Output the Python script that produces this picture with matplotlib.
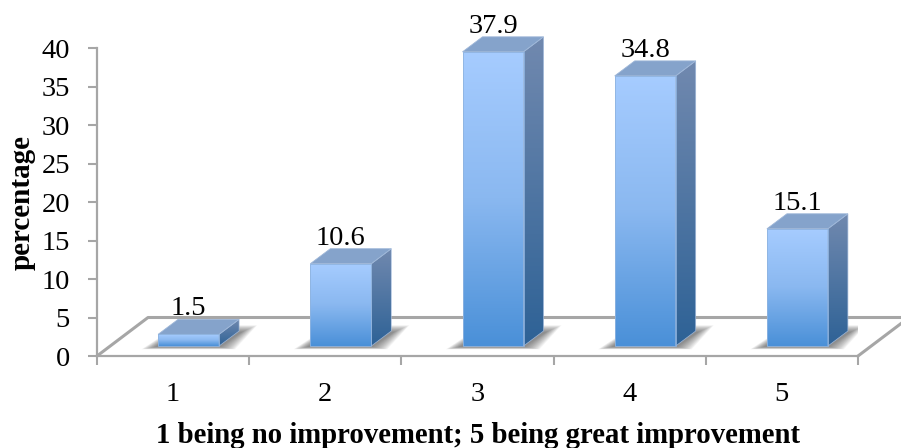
import numpy as np
import matplotlib
matplotlib.use('Agg')
import matplotlib.pyplot as plt
from matplotlib.colors import LinearSegmentedColormap
from matplotlib.patches import Polygon

# 数据
categories = [1, 2, 3, 4, 5]
percentages = [1.5, 10.6, 37.9, 34.8, 15.1]
y_ticks = [0, 5, 10, 15, 20, 25, 30, 35, 40]

plt.rcParams['font.family'] = ['Liberation Serif', 'DejaVu Serif']

fig = plt.figure(figsize=(9.01, 4.48), dpi=100)
ax = fig.add_axes([97 / 901, (448 - 356) / 448, 761 / 901, 308 / 448])
ax.set_xlim(0.5, 5.5)
ax.set_ylim(0, 40)

# 一个像素对应的数据长度
px = 1 / 152.2
py = 1 / 7.7

bar_w = 61 * px
bar_shift = 15.5 * px
depth_x = 20 * px
depth_y = 15 * py
base = 10 * py
front_scale = 1.008
axis_color = '#a6a6a6'

front_cmap = LinearSegmentedColormap.from_list('front', ['#a6ccff', '#8ab8f0', '#4a90d8'])
side_cmap = LinearSegmentedColormap.from_list('side', ['#7189af', '#2e6296'])
ramp = np.linspace(0, 1, 128).reshape(-1, 1)


def gradient_face(points, cmap, z):
    # 用裁剪后的渐变图像填充一个面
    pts = np.array(points)
    im = ax.imshow(ramp, cmap=cmap, aspect='auto', zorder=z, interpolation='bilinear',
                   extent=(pts[:, 0].min(), pts[:, 0].max(), pts[:, 1].min(), pts[:, 1].max()))
    clip = Polygon(points, transform=ax.transData)
    im.set_clip_path(clip)
    im.set_clip_box(fig.bbox)


# 地板后沿和侧边
ax.plot([0.5, 0.5 + 51 * px, 6], [0, 5, 5], color=axis_color, lw=2.2, zorder=1, clip_on=False,
        solid_capstyle='butt')
ax.plot([5.5, 5.5 + 51 * px], [0, 5], color=axis_color, lw=2.2, zorder=1, clip_on=False)

for cat, value in zip(categories, percentages):
    x0 = cat + bar_shift - bar_w / 2
    x1 = cat + bar_shift + bar_w / 2
    top = base + value * front_scale

    # 柱底阴影,多层半透明叠加
    for i in range(16):
        grow = (15 - i) * 1.0
        shadow = Polygon([(x0 - (3 + grow * 0.9) * px, base - (1 + grow * 0.15) * py),
                          (x1 + (1 + grow) * px, base - (1 + grow * 0.15) * py),
                          (x1 + depth_x + (3 + grow) * px, base + (14 + grow * 0.45) * py),
                          (x0 + depth_x, base + (14 + grow * 0.45) * py)],
                         closed=True, facecolor='#404040', edgecolor='none', alpha=0.05, zorder=2)
        ax.add_patch(shadow)

    front = [(x0, base), (x1, base), (x1, top), (x0, top)]
    side = [(x1, base), (x1 + depth_x, base + depth_y), (x1 + depth_x, top + depth_y), (x1, top)]
    cap = [(x0, top), (x1, top), (x1 + depth_x, top + depth_y), (x0 + depth_x, top + depth_y)]

    gradient_face(side, side_cmap, 3)
    gradient_face(front, front_cmap, 4)
    ax.add_patch(Polygon(cap, closed=True, facecolor='#85a3cb', edgecolor='#9db6d8', lw=0.6,
                         zorder=5, clip_on=False))
    ax.add_patch(Polygon(side, closed=True, facecolor='none', edgecolor='#9db6d8', lw=0.5,
                         zorder=5, clip_on=False))
    ax.add_patch(Polygon(front, closed=True, facecolor='none', edgecolor='#8fb4e0', lw=0.6,
                         zorder=5, clip_on=False))

    ax.annotate(f'{value:.1f}', xy=(cat + bar_shift, top + depth_y), xytext=(0, 3),
                textcoords='offset points', ha='center', va='baseline', fontsize=20.5,
                color='black', zorder=6, annotation_clip=False)

ax.set_xlim(0.5, 5.5)
ax.set_ylim(0, 40)

# 坐标轴
for name in ['top', 'right']:
    ax.spines[name].set_visible(False)
for name in ['left', 'bottom']:
    ax.spines[name].set_color(axis_color)
    ax.spines[name].set_linewidth(1.6)
    ax.spines[name].set_zorder(7)

ax.set_yticks(y_ticks)
ax.set_xticks(np.arange(0.5, 6, 1))
ax.set_xticklabels([])
ax.set_xticks(categories, minor=True)
ax.set_xticklabels(categories, minor=True)
ax.tick_params(axis='x', which='major', length=6.5, width=1.5, color=axis_color)
ax.tick_params(axis='x', which='minor', length=0, pad=19, labelsize=20.5)
ax.tick_params(axis='y', length=6.5, width=1.5, color=axis_color, pad=13, labelsize=20.5)

ax.set_xlabel('1 being no improvement; 5 being great improvement', fontsize=20.7,
              fontweight='bold', labelpad=10.5)
ax.set_ylabel('percentage', fontsize=21, fontweight='bold', labelpad=4.5)

fig.savefig('out.png', dpi=100)
